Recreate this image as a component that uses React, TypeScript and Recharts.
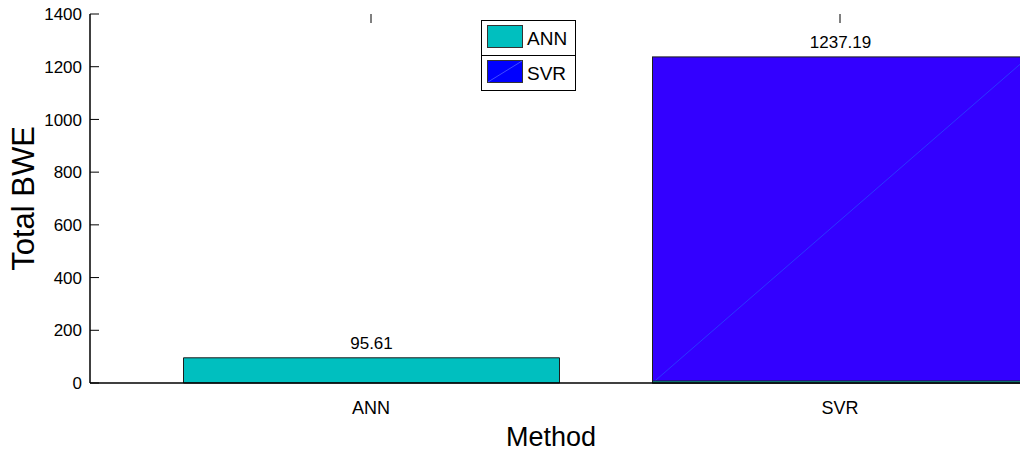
import React from 'react';
import { BarChart, Bar, XAxis, YAxis, Legend, LabelList, Label } from 'recharts';

// Total BWE per forecasting method
const methods = ['ANN', 'SVR'];
const annValues = [95.61, 0];
const svrValues = [0, 1237.19];
const yTicks = [0, 200, 400, 600, 800, 1000, 1200, 1400];

const data = methods.map((method, i) => ({
  method,
  ANN: annValues[i],
  SVR: svrValues[i],
}));

const FONT = '"Liberation Sans", Arial, Helvetica, sans-serif';
const TICK = 9;
const PLOT_TOP = 14;
const EDGE = '#1e1e1e';
const barFill: Record<string, string> = { ANN: '#00bfbf', SVR: '#3300ff' };
const swatchFill: Record<string, string> = { ANN: '#00bfbf', SVR: '#0000ff' };

// ticks point into the plot, labels sit outside
const YTick = (props: any) => {
  const { x, y, payload } = props;
  const ax = x + TICK;
  return (
    <g>
      <line x1={ax} y1={y} x2={ax + TICK} y2={y} stroke="#000" />
      <text x={ax - 8} y={y} dy="0.36em" textAnchor="end" fontSize={17} fontFamily={FONT} fill="#000">
        {payload.value}
      </text>
    </g>
  );
};

// bottom labels, plus the mirrored tick hanging from the top box edge
const XTick = (props: any) => {
  const { x, y, payload } = props;
  const ay = y - TICK;
  return (
    <g>
      <line x1={x} y1={PLOT_TOP} x2={x} y2={PLOT_TOP + TICK} stroke="#000" />
      <text x={x} y={ay + 31} textAnchor="middle" fontSize={18} fontFamily={FONT} fill="#000">
        {payload.value}
      </text>
    </g>
  );
};

const YTitle = (props: any) => {
  const { viewBox } = props;
  const cx = viewBox.x - 7;
  const cy = viewBox.y + viewBox.height / 2;
  return (
    <text
      x={cx}
      y={cy}
      transform={`rotate(-90 ${cx} ${cy})`}
      textAnchor="middle"
      dominantBaseline="central"
      fontSize={31}
      fontFamily={FONT}
      fill="#000"
    >
      Total BWE
    </text>
  );
};

const XTitle = (props: any) => {
  const { viewBox } = props;
  return (
    <text x={viewBox.x + 461} y={446} textAnchor="middle" fontSize={27} fontFamily={FONT} fill="#000">
      Method
    </text>
  );
};

const ValueLabel = (props: any) => {
  const { x, y, width, value } = props;
  if (!value) return null;
  return (
    <text x={x + width / 2} y={y - 9} textAnchor="middle" fontSize={17} fontFamily={FONT} fill="#000">
      {value}
    </text>
  );
};

// patch with the diagonal seam the renderer leaves in it
const SeamBar = (props: any) => {
  const { x, y, width, height, fill, stroke } = props;
  if (!height) return null;
  return (
    <g>
      <rect x={x} y={y} width={width} height={height} fill={fill} stroke={stroke} />
      <line x1={x} y1={y + height} x2={x + width} y2={y} stroke="#2a44ff" strokeWidth={0.8} />
    </g>
  );
};

const LegendBox = () => (
  <svg width={96} height={72} style={{ display: 'block' }}>
    {methods.map((name, i) => {
      const top = i * 35;
      return (
        <g key={name}>
          <rect x={0.5} y={top + 0.5} width={94} height={35} fill="#fff" stroke="#000" />
          <rect x={6.5} y={top + 5.5} width={35} height={22} fill={swatchFill[name]} stroke="#333" />
          {name === 'SVR' && (
            <line x1={7} y1={top + 27} x2={41} y2={top + 6} stroke="#5a6cff" strokeWidth={0.7} />
          )}
          <text x={46} y={top + 25} fontSize={19} fontFamily={FONT} fill="#000">
            {name}
          </text>
        </g>
      );
    })}
  </svg>
);

export default function App() {
  return (
    <div
      style={{
        position: 'absolute',
        left: 0,
        top: 0,
        width: 1020,
        height: 451,
        overflow: 'hidden',
        background: '#fff',
      }}
    >
      <BarChart
        width={1140}
        height={451}
        data={data}
        margin={{ top: PLOT_TOP, right: 19, bottom: 38, left: 30 }}
        barSize={376}
        barGap={-376}
      >
        <XAxis
          xAxisId="top"
          orientation="top"
          dataKey="method"
          height={0}
          padding={{ left: 46.5, right: 46.5 }}
          axisLine={{ stroke: '#000', strokeWidth: 1.5 }}
          tickLine={false}
          tick={false}
        />
        <XAxis
          dataKey="method"
          height={30}
          padding={{ left: 46.5, right: 46.5 }}
          axisLine={{ stroke: '#000', strokeWidth: 1.5 }}
          tickLine={false}
          tickSize={TICK}
          tickMargin={0}
          tick={<XTick />}
          interval={0}
          label={<Label content={<XTitle />} />}
        />
        <YAxis
          type="number"
          domain={[0, 1400]}
          ticks={yTicks}
          width={60}
          interval={0}
          axisLine={{ stroke: '#000', strokeWidth: 1.5 }}
          tickLine={false}
          tickSize={TICK}
          tickMargin={0}
          tick={<YTick />}
          label={<Label content={<YTitle />} />}
        />
        <Legend
          layout="vertical"
          align="center"
          verticalAlign="middle"
          wrapperStyle={{ left: 481, top: 20, width: 96, height: 72 }}
          content={<LegendBox />}
        />
        <Bar dataKey="SVR" fill={barFill.SVR} stroke={EDGE} shape={<SeamBar />} isAnimationActive={false}>
          <LabelList dataKey="SVR" content={<ValueLabel />} />
        </Bar>
        <Bar dataKey="ANN" fill={barFill.ANN} stroke={EDGE} minPointSize={2} isAnimationActive={false}>
          <LabelList dataKey="ANN" content={<ValueLabel />} />
        </Bar>
      </BarChart>
    </div>
  );
}
